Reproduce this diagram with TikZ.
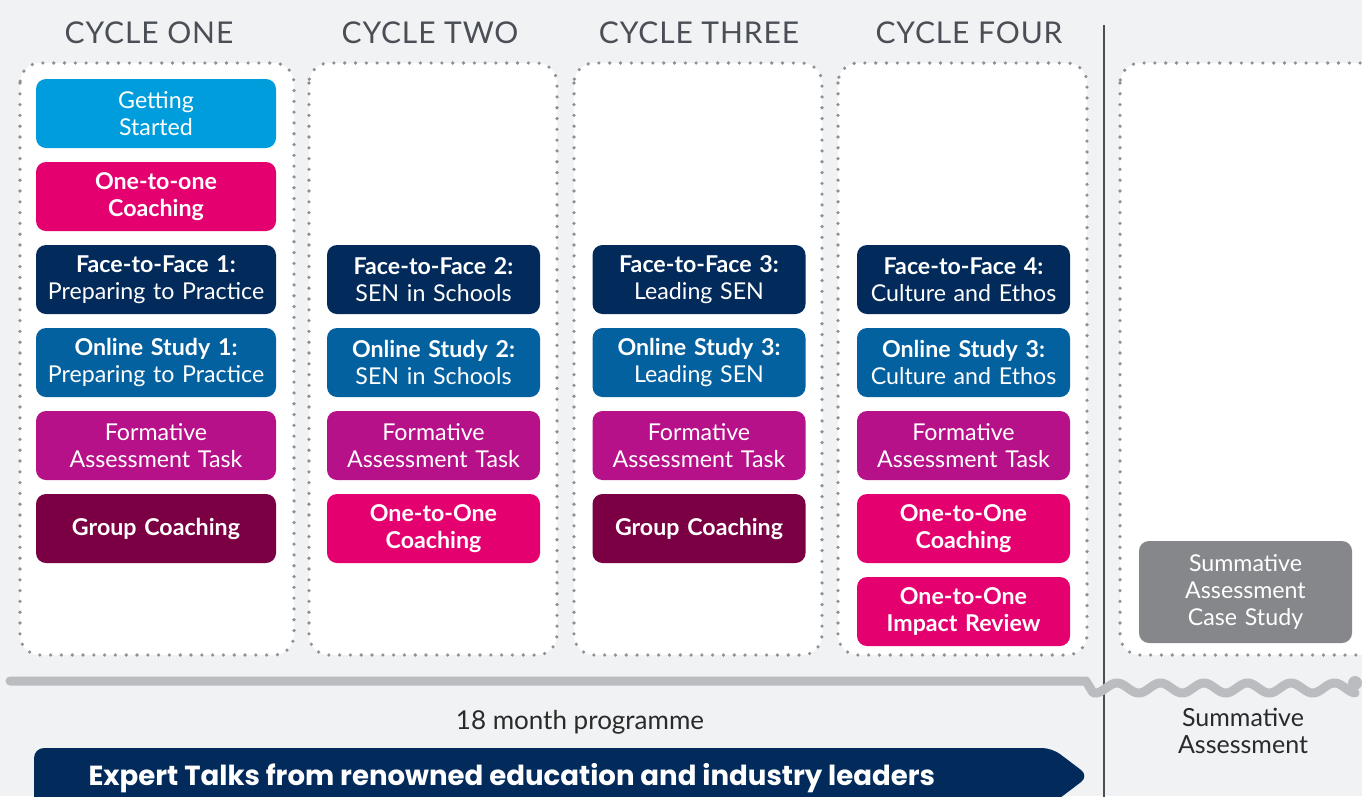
\documentclass[tikz,border=0pt]{standalone}
\usepackage{fontspec}
\setmainfont{Lato}
\newfontfamily\bannerfont{Poppins}
\usetikzlibrary{positioning}
\definecolor{pagebg}{HTML}{F1F2F4}
\definecolor{dotgrey}{HTML}{8E9095}
\definecolor{headgrey}{HTML}{4A4F56}
\definecolor{startcol}{HTML}{009DDC}
\definecolor{coachcol}{HTML}{E4006F}
\definecolor{facecol}{HTML}{022B5B}
\definecolor{onlinecol}{HTML}{0461A0}
\definecolor{formcol}{HTML}{B7118A}
\definecolor{groupcol}{HTML}{7A0043}
\definecolor{sumcol}{HTML}{86878B}
\definecolor{linegrey}{HTML}{BBBCC0}
\definecolor{notecol}{HTML}{2A2A2A}
\tikzset{plan/.style={x=1pt,y=-1pt,node distance=83pt,on grid}}
\tikzset{task/.style={rounded corners=10pt,minimum width=240pt,minimum height=69pt,text width=236pt,align=center,inner sep=0pt,text=white,font=\fontsize{23.2}{27}\selectfont}}
\tikzset{narrow/.style={minimum width=213pt,text width=210pt}}
\tikzset{getting/.style={task,fill=startcol}}
\tikzset{onetoone/.style={task,fill=coachcol,font=\fontsize{23.2}{27}\selectfont\bfseries}}
\tikzset{facetoface/.style={task,fill=facecol}}
\tikzset{online/.style={task,fill=onlinecol}}
\tikzset{formative/.style={task,fill=formcol}}
\tikzset{groupcoach/.style={task,fill=groupcol,font=\fontsize{23.2}{27}\selectfont\bfseries}}
\tikzset{summative/.style={task,narrow,fill=sumcol,minimum height=102pt}}
\tikzset{panel/.style={fill=white,draw=dotgrey,line width=3.6pt,line cap=round,dash pattern=on 0pt off 10.8pt,rounded corners=20pt}}
\tikzset{cyclehead/.style={text=headgrey,font=\fontsize{30}{32}\selectfont\addfontfeatures{LetterSpace=3}}}
\tikzset{note/.style={text=notecol,align=center,font=\fontsize{25}{27}\selectfont}}
\tikzset{timeline/.style={draw=linegrey,line width=9pt,line cap=round,line join=round}}

\begin{document}
\begin{tikzpicture}[plan]
  \useasboundingbox (0,0) rectangle (1362,796);
  \clip (0,0) rectangle (1362,796);
  \fill[pagebg] (0,0) rectangle (1362,796);
  % panels
  \path[panel] (20,63) rectangle (294,655);
  \path[panel] (309,63) rectangle (557,655);
  \path[panel] (574,63) rectangle (822,655);
  \path[panel] (838,63) rectangle (1087,655);
  \path[panel] (1120,63) rectangle (1400,655);
  \draw[headgrey,line width=1.6pt] (1104,25) -- (1104,800);
  % headings
  \node[cyclehead] (h1) at (149,33) {CYCLE ONE};
  \node[cyclehead] (h2) at (430,33) {CYCLE TWO};
  \node[cyclehead] (h3) at (699,33) {CYCLE THREE};
  \node[cyclehead] (h4) at (969,33) {CYCLE FOUR};
  % cycle one
  \node[getting] (gs1) at (156,113.5) {Getting\\Started};
  \node[onetoone] (oc1) [below=of gs1] {One-to-one\\Coaching};
  \node[facetoface] (ff1) [below=of oc1] {\textbf{Face-to-Face 1:}\\Preparing to Practice};
  \node[online] (os1) [below=of ff1] {\textbf{Online Study 1:}\\Preparing to Practice};
  \node[formative] (fa1) [below=of os1] {Formative\\Assessment Task};
  \node[groupcoach] (gc1) [below=of fa1] {Group Coaching};
  % cycle two
  \node[facetoface,narrow] (ff2) at (433.5,279.5) {\textbf{Face-to-Face 2:}\\SEN in Schools};
  \node[online,narrow] (os2) [below=of ff2] {\textbf{Online Study 2:}\\SEN in Schools};
  \node[formative,narrow] (fa2) [below=of os2] {Formative\\Assessment Task};
  \node[onetoone,narrow] (oc2) [below=of fa2] {One-to-One\\Coaching};
  % cycle three
  \node[facetoface,narrow] (ff3) at (699,279.5) {\textbf{Face-to-Face 3:}\\Leading SEN};
  \node[online,narrow] (os3) [below=of ff3] {\textbf{Online Study 3:}\\Leading SEN};
  \node[formative,narrow] (fa3) [below=of os3] {Formative\\Assessment Task};
  \node[groupcoach,narrow] (gc3) [below=of fa3] {Group Coaching};
  % cycle four
  \node[facetoface,narrow] (ff4) at (963.5,279.5) {\textbf{Face-to-Face 4:}\\Culture and Ethos};
  \node[online,narrow] (os4) [below=of ff4] {\textbf{Online Study 3:}\\Culture and Ethos};
  \node[formative,narrow] (fa4) [below=of os4] {Formative\\Assessment Task};
  \node[onetoone,narrow] (oc4) [below=of fa4] {One-to-One\\Coaching};
  \node[onetoone,narrow] (ir4) [below=of oc4] {One-to-One\\Impact Review};
  % summative
  \node[summative] (sa) at (1245.5,592) {Summative\\Assessment\\Case Study};
  % timeline
  \draw[timeline] (10,681) -- (1086,681) -- plot[domain=1093:1355,samples=140] (\x,{688-5*cos((\x-1117)*8.2759)});
  \fill[linegrey] (1355,683) circle (7);
  \node[note,font=\fontsize{26}{27}\selectfont] (months) at (580,722) {18 month programme};
  \node[note] (sumnote) at (1243,731) {Summative\\Assessment};
  % banner
  \fill[facecol,rounded corners=10pt] (34,830) -- (34,748) -- (1052,748) -- (1089,776) -- (1052,804) -- (1052,830) -- cycle;
  \node[text=white,anchor=west,font=\bannerfont\bfseries\fontsize{27.6}{30}\selectfont] (talks) at (85,778) {Expert Talks from renowned education and industry leaders};
\end{tikzpicture}
\end{document}
